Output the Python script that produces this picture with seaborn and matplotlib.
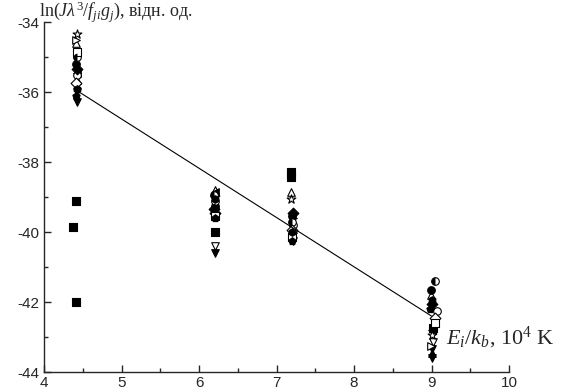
import numpy as np
import pandas as pd
import matplotlib
matplotlib.use("Agg")
import matplotlib.pyplot as plt
from matplotlib.ticker import MultipleLocator, FuncFormatter
import seaborn as sns

# Data (E_i/k_b in 10^4 K, ln(J*lambda^3/f g))
sq_E = [4.38, 4.41, 4.41, 6.20, 7.19, 7.19, 9.02]
sq_ln = [-39.85, -39.1, -42.0, -40.0, -38.28, -38.42, -42.75]

tri_dn_fill_E = [4.43, 6.21, 7.21, 9.00, 9.01]
tri_dn_fill_ln = [-36.3, -40.6, -40.25, -43.6, -43.35]

tri_dn_open_E = [4.42, 6.21, 7.20, 9.02]
tri_dn_open_ln = [-36.0, -40.4, -40.05, -43.15]

tri_up_open_E = [4.41, 6.20, 7.19, 8.99]
tri_up_open_ln = [-34.6, -38.8, -38.85, -41.8]

tri_up_fill_E = [4.42, 6.21, 7.21, 9.01]
tri_up_fill_ln = [-35.65, -39.2, -39.9, -43.45]

tri_l_E = [4.42, 6.20, 7.20, 9.00]
tri_l_ln = [-35.45, -38.85, -40.1, -42.8]

tri_r_E = [4.41, 6.21, 7.21, 8.99]
tri_r_ln = [-34.5, -39.45, -39.6, -43.25]

star_E = [4.42, 6.20, 7.19, 9.00]
star_ln = [-34.35, -39.0, -39.05, -42.95]

circ_fill_E = [4.41, 6.20, 7.20, 8.99]
circ_fill_ln = [-35.2, -39.25, -39.55, -41.65]

circ_open_E = [4.43, 6.21, 7.21, 9.07]
circ_open_ln = [-35.5, -39.1, -39.8, -42.25]

half_E = [4.42, 6.19, 7.20, 9.05]
half_ln = [-35.0, -38.95, -39.7, -41.4]

diam_open_E = [4.41, 6.21, 7.20, 9.04]
diam_open_ln = [-35.75, -39.45, -39.95, -42.45]

diam_fill_E = [4.43, 6.19, 7.21, 9.00]
diam_fill_ln = [-35.35, -39.35, -39.45, -42.05]

sq_open_E = [4.42, 6.20, 7.20, 9.05]
sq_open_ln = [-34.85, -39.55, -40.15, -42.6]

pent_E = [4.41, 6.20, 7.20, 8.98]
pent_ln = [-36.1, -39.6, -40.25, -42.2]

hex_E = [4.42, 6.20, 7.20, 9.01]
hex_ln = [-35.9, -39.05, -40.0, -41.95]

# linear fit shown on the chart
fit_slope = -1.408
fit_intercept = -29.73
fit_range = [4.42, 9.0]

# half-filled circle marker
t = np.linspace(np.pi / 2, 3 * np.pi / 2, 20)
half_disk = list(zip(np.cos(t), np.sin(t)))

series = [
    (sq_E, sq_ln, "s", "black"),
    (tri_dn_fill_E, tri_dn_fill_ln, "v", "black"),
    (tri_dn_open_E, tri_dn_open_ln, "v", "white"),
    (tri_up_open_E, tri_up_open_ln, "^", "white"),
    (tri_up_fill_E, tri_up_fill_ln, "^", "black"),
    (tri_l_E, tri_l_ln, "<", "black"),
    (tri_r_E, tri_r_ln, ">", "white"),
    (star_E, star_ln, "*", "white"),
    (circ_fill_E, circ_fill_ln, "o", "black"),
    (circ_open_E, circ_open_ln, "o", "white"),
    (half_E, half_ln, "o", "white"),
    (diam_open_E, diam_open_ln, "D", "white"),
    (diam_fill_E, diam_fill_ln, "D", "black"),
    (sq_open_E, sq_open_ln, "s", "white"),
    (pent_E, pent_ln, "p", "black"),
    (hex_E, hex_ln, "h", "black"),
]

sns.set_style("ticks")
plt.rcParams["font.family"] = ["Liberation Sans", "DejaVu Sans"]
plt.rcParams["mathtext.fontset"] = "custom"
plt.rcParams["mathtext.rm"] = "Liberation Serif"
plt.rcParams["mathtext.it"] = "Liberation Serif:italic"
plt.rcParams["axes.unicode_minus"] = False

fig = plt.figure(figsize=(5.67, 3.91), dpi=100)
ax = fig.add_axes([44 / 567, 1 - 372 / 391, 465 / 567, 350 / 391])

for E, ln, m, fc in series:
    df = pd.DataFrame({"E": E, "ln": ln})
    size = 44 if m == "*" else 30
    sns.scatterplot(data=df, x="E", y="ln", marker=m, color=fc,
                    edgecolor="black", linewidth=0.8, s=size, ax=ax,
                    zorder=3, legend=False)

# black left half of the half-filled circles
sns.scatterplot(x=half_E, y=half_ln, marker=half_disk, color="black",
                edgecolor="black", linewidth=0, s=30, ax=ax, zorder=4,
                legend=False)

xf = np.array(fit_range)
ax.plot(xf, fit_intercept + fit_slope * xf, color="black", lw=0.8, zorder=5)

ax.set_xlim(4, 10)
ax.set_ylim(-44, -34)
ax.xaxis.set_major_locator(MultipleLocator(1))
ax.xaxis.set_minor_locator(MultipleLocator(0.5))
ax.yaxis.set_major_locator(MultipleLocator(2))
ax.yaxis.set_minor_locator(MultipleLocator(1))
ax.yaxis.set_major_formatter(FuncFormatter(lambda v, p: f"{v:.0f}"))
ax.tick_params(which="both", direction="in", width=1.0, labelsize=11, pad=3)
ax.tick_params(which="major", length=5)
ax.tick_params(which="minor", length=3)
ax.set_xlabel("")
ax.set_ylabel("")
sns.despine(ax=ax)
for sp in ["left", "bottom"]:
    ax.spines[sp].set_linewidth(1.0)

fig.text(39 / 567, 1 - 12 / 391, r"$\mathrm{ln}(J\lambda^3/f_{ji}g_j)$, відн. од.",
         family="Liberation Serif", fontsize=13, va="center", ha="left")
fig.text(446 / 567, 1 - 338 / 391, r"$E_i/k_b$, 10$^4$ K",
         family="Liberation Serif", fontsize=16, va="center", ha="left")

fig.savefig("out.png", dpi=100)
